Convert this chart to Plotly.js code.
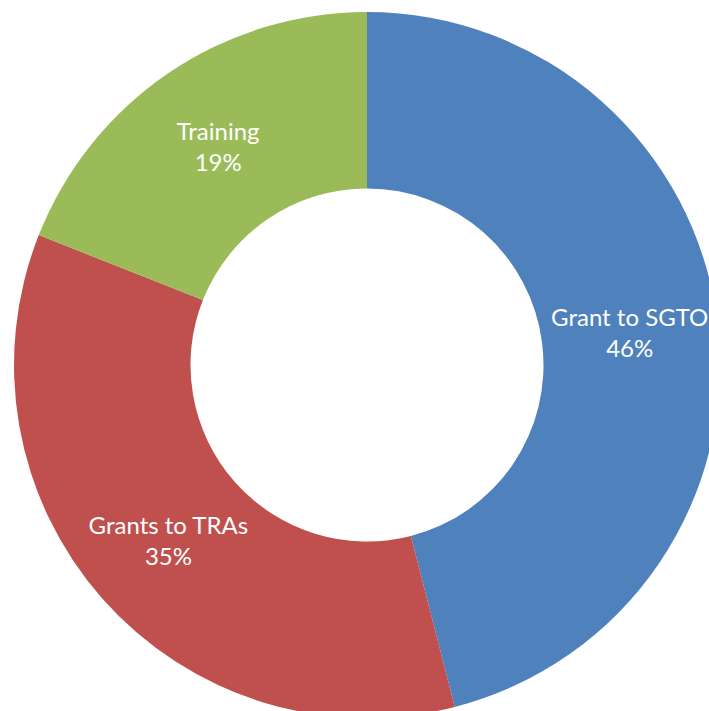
<!DOCTYPE html>
<html>
<head>
<meta charset="utf-8">
<script src="https://cdn.plot.ly/plotly-3.0.1.min.js"></script>
<style>
html,body{margin:0;padding:0;background:#fff;overflow:hidden;width:709px;height:711px;}
#chart{width:720px;height:718px;}
</style>
</head>
<body>
<div id="chart"></div>
<script>
const categories = ["Grant to SGTO", "Grants to TRAs", "Training"];
const shares = [46, 35, 19];
const colors = ["#4F81BD", "#C0504D", "#9BBB59"];

Plotly.newPlot("chart", [{
  type: "pie",
  labels: categories,
  values: shares,
  hole: 0.5,
  sort: false,
  direction: "clockwise",
  rotation: 0,
  marker: {colors: colors, line: {width: 0}},
  texttemplate: "%{label}<br>%{percent:.0%}",
  textposition: "inside",
  insidetextorientation: "horizontal",
  textfont: {family: "Lato, 'Noto Sans', sans-serif", size: 24, color: "#ffffff"},
  domain: {x: [14/720, 1], y: [0, 706/718]},
  hoverinfo: "none"
}], {
  width: 720,
  height: 718,
  margin: {l: 0, r: 0, t: 0, b: 0, pad: 0},
  showlegend: false,
  paper_bgcolor: "#ffffff"
}, {staticPlot: true, displayModeBar: false});
</script>
</body>
</html>
